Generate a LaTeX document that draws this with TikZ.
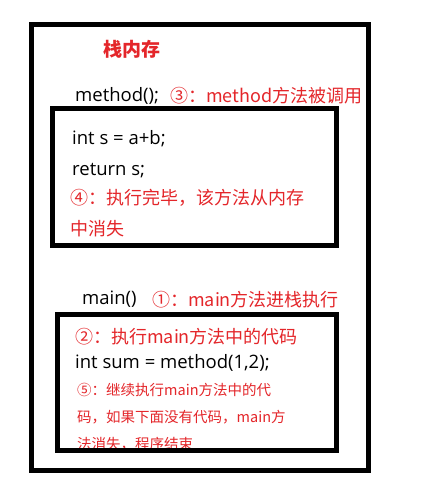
\documentclass[tikz,border=0pt]{standalone}
\usepackage{fontspec}
\setmainfont{Noto Sans CJK SC}
\newfontfamily\codefont{Open Sans}
\definecolor{notered}{RGB}{228,38,42}
\begin{document}
\begin{tikzpicture}[x=1pt,y=-1pt,
  frame/.style={draw=black,line width=5pt},
  code/.style={anchor=west,inner sep=0pt,font=\codefont\fontsize{18.5}{20}\selectfont,text=black},
  note/.style={anchor=west,inner sep=0pt,font=\fontsize{18}{20}\selectfont,text=notered},
  smallnote/.style={anchor=west,inner sep=0pt,font=\fontsize{14.5}{16}\selectfont,text=notered},
  title/.style={anchor=west,inner sep=0pt,font=\fontsize{19}{21}\selectfont\bfseries,text=notered}]
\useasboundingbox[fill=white] (0,0) rectangle (421,499);
% texts
\node[title] (t) at (103,49) {栈内存};
\node[code] (m) at (75,96) {method();};
\node[note] (n3) at (170,96) {③：method方法被调用};
\node[code] (c1) at (72,139) {int s = a+b;};
\node[code] (c2) at (72,171) {return s;};
\node[note] (n4a) at (70,198) {④：执行完毕，该方法从内存};
\node[note] (n4b) at (70,229) {中消失};
\node[code] (mm) at (82,299) {main()};
\node[note] (n1) at (152,300) {①：main方法进栈执行};
\node[note] (n2) at (75,337) {②：执行main方法中的代码};
\node[code] (c3) at (75,363) {int sum = method(1,2);};
\node[smallnote] (n5a) at (77,390) {⑤：继续执行main方法中的代};
\node[smallnote] (n5b) at (77,417) {码，如果下面没有代码，main方};
\node[smallnote] (n5c) at (77,444) {法消失，程序结束};
% boxes
\draw[frame] (31.5,24) rectangle (368.5,470);
\draw[frame] (52.5,108.5) rectangle (336.5,245.5);
\draw[frame] (57.5,314.5) rectangle (336,450.5);
\end{tikzpicture}
\end{document}
